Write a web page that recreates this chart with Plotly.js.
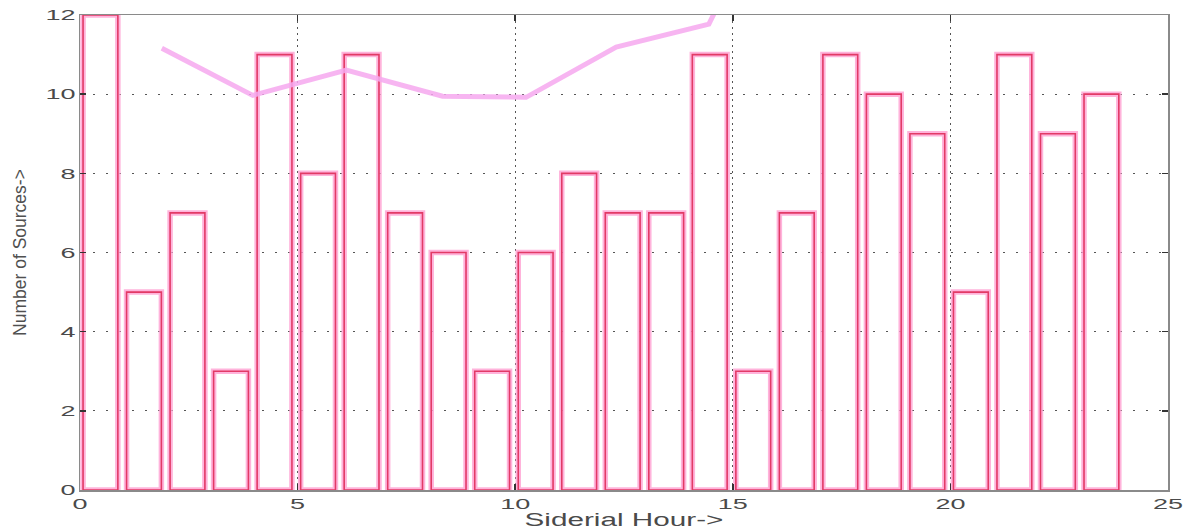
<!DOCTYPE html>
<html>
<head>
<meta charset="utf-8">
<script src="https://cdn.plot.ly/plotly-3.0.1.min.js"></script>
<style>
  html, body { margin: 0; padding: 0; background: #fff; }
  #chart { width: 1189px; height: 530px; }
</style>
</head>
<body>
<div id="chart"></div>
<script>
// Sources observed per sidereal hour bin
const hours = [0, 1, 2, 3, 4, 5, 6, 7, 8, 9, 10, 11, 12, 13, 14, 15, 16, 17, 18, 19, 20, 21, 22, 23];
const sources = [12, 5, 7, 3, 11, 8, 11, 7, 6, 3, 6, 8, 7, 7, 11, 3, 7, 11, 10, 9, 5, 11, 9, 10];

// Faint pink overlay curve
const curveHour = [1.88, 3.97, 6.12, 8.33, 10.25, 12.32, 14.45, 14.72];
const curveLevel = [11.16, 9.97, 10.61, 9.95, 9.92, 11.19, 11.77, 12.37];

// Axis ticks
const xTicks = [0, 5, 10, 15, 20, 25];
const yTicks = [0, 2, 4, 6, 8, 10, 12];

const barShape = { offset: 0.07, width: 0.8 };

const halo = Object.assign({
  type: 'bar', x: hours, y: sources,
  marker: { color: 'rgba(0,0,0,0)', line: { color: 'rgba(255,160,210,0.8)', width: 5.5 } },
  hoverinfo: 'skip', showlegend: false
}, barShape);

const outline = Object.assign({
  type: 'bar', x: hours, y: sources,
  marker: { color: 'rgba(0,0,0,0)', line: { color: '#e23a66', width: 1.6 } },
  showlegend: false
}, barShape);

const curve = {
  type: 'scatter', mode: 'lines', x: curveHour, y: curveLevel,
  line: { color: 'rgba(246,168,238,0.85)', width: 5 },
  cliponaxis: false, hoverinfo: 'skip', showlegend: false
};

const tickFont = { family: 'Liberation Sans, Arial, sans-serif', size: 15, color: '#4a4a4a' };

const layout = {
  width: 1189, height: 530,
  margin: { l: 80, r: 21, t: 15, b: 40 },
  paper_bgcolor: '#ffffff', plot_bgcolor: '#ffffff',
  barmode: 'overlay',
  xaxis: {
    range: [0, 25], tickvals: xTicks, ticktext: xTicks.map(String),
    showline: true, linecolor: '#8a8a8a', linewidth: 1.5, mirror: 'ticks',
    ticks: 'inside', ticklen: 6, tickwidth: 1.5, tickcolor: '#333',
    showgrid: true, gridcolor: '#555', gridwidth: 1, griddash: '2px,4px',
    zeroline: false, tickfont: tickFont,
    title: { text: 'Siderial Hour->', font: { family: 'Liberation Sans, Arial, sans-serif', size: 18, color: '#4a4a4a' }, standoff: 2 }
  },
  yaxis: {
    range: [0, 12], tickvals: yTicks, ticktext: yTicks.map(String),
    showline: true, linecolor: '#8a8a8a', linewidth: 1.5, mirror: 'ticks',
    ticks: 'inside', ticklen: 6, tickwidth: 1.5, tickcolor: '#333',
    showgrid: true, gridcolor: '#555', gridwidth: 1, griddash: '2px,11px',
    zeroline: false, tickfont: tickFont,
    title: { text: 'Number of Sources->', font: { family: 'Liberation Sans, Arial, sans-serif', size: 17.5, color: '#505050' }, standoff: 27 }
  }
};

// Widen a set of text labels horizontally about their own anchor point
function widen(selector, sx) {
  document.querySelectorAll(selector).forEach(function (t) {
    const x = parseFloat(t.getAttribute('x')) || 0;
    const base = t.getAttribute('transform') || '';
    t.setAttribute('transform', base + ' translate(' + x + ',0) scale(' + sx + ',1) translate(' + (-x) + ',0)');
  });
}

Plotly.newPlot('chart', [halo, outline, curve], layout, { staticPlot: true }).then(function () {
  widen('#chart .xtick text', 1.8);
  widen('#chart .ytick text', 1.8);
  widen('#chart .g-xtitle text', 1.65);
});
</script>
</body>
</html>
